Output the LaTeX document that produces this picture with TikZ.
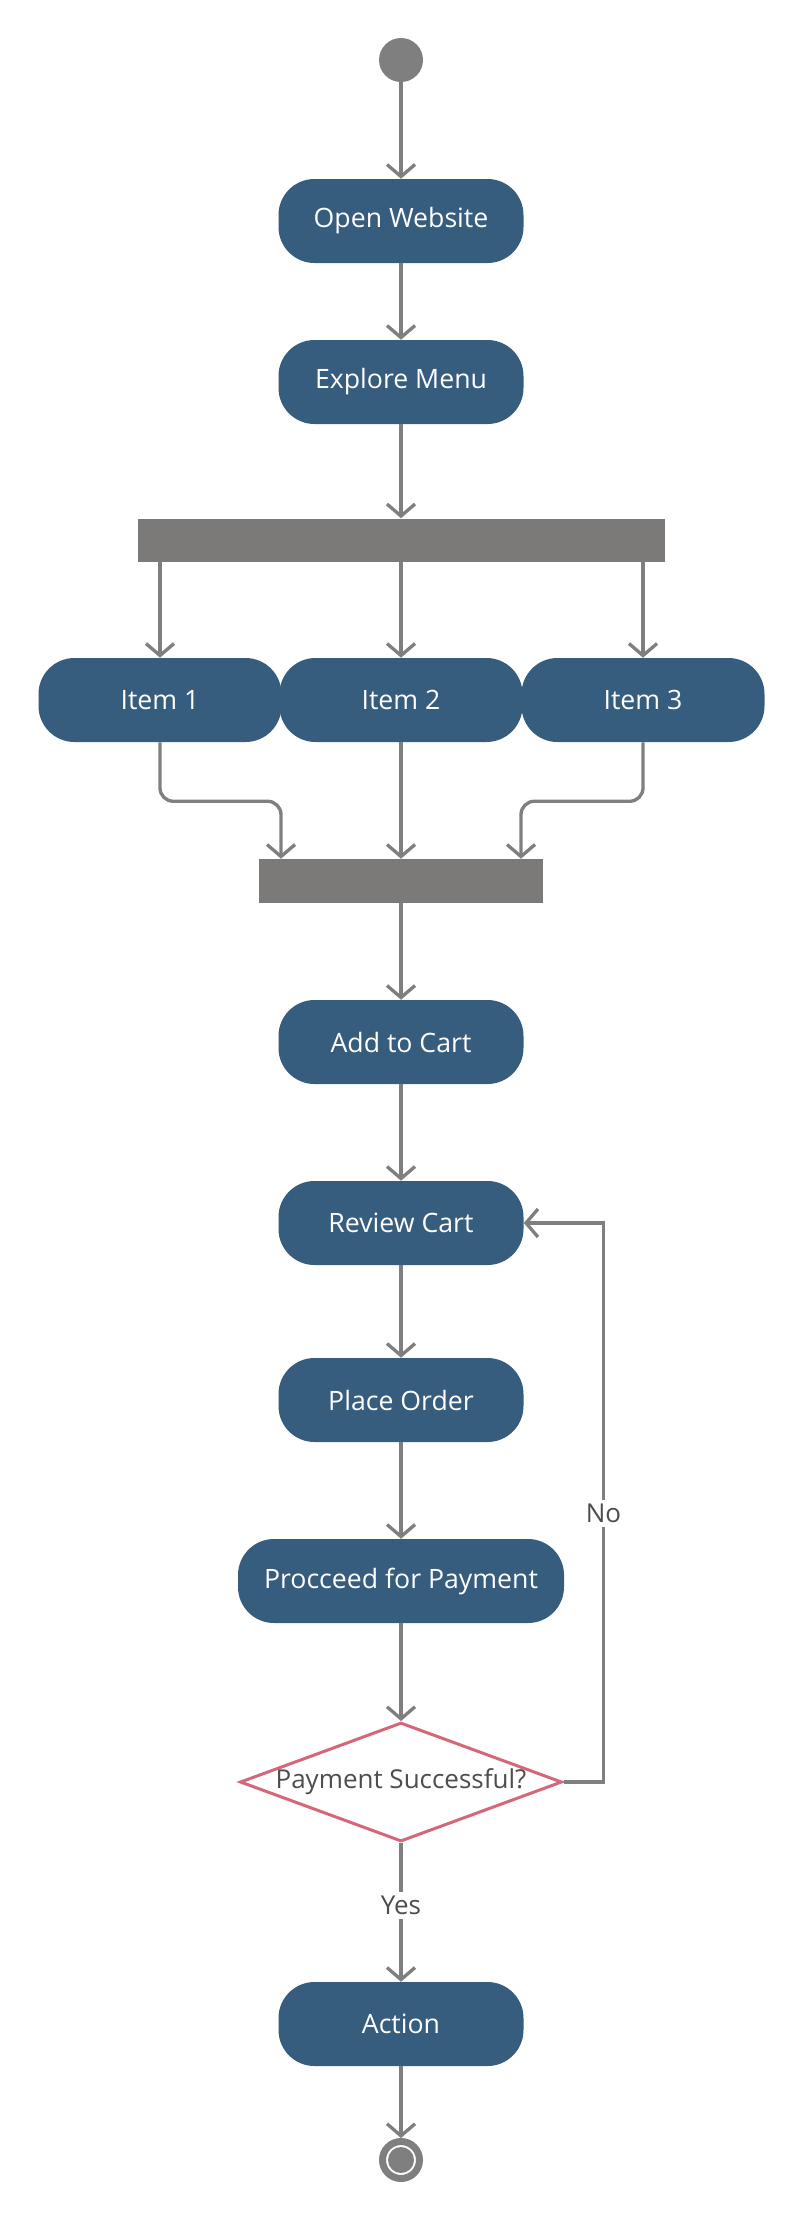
\documentclass[tikz,border=0pt]{standalone}
\usepackage{fontspec}
\setmainfont{Open Sans}
\usetikzlibrary{arrows.meta,shapes.geometric}

\definecolor{boxblue}{HTML}{365C7E}
\definecolor{linegray}{HTML}{7F7F7F}
\definecolor{bargray}{HTML}{7B7A78}
\definecolor{decred}{HTML}{D4687A}
\definecolor{lblgray}{HTML}{4D4D4D}

\tikzset{
  act/.style={rectangle, rounded corners=27pt, fill=boxblue, text=white, inner sep=0pt,
    minimum width=183.75pt, minimum height=63pt, font=\fontsize{20pt}{24pt}\selectfont},
  bar/.style={rectangle, fill=bargray, inner sep=0pt},
  flow/.style={draw=linegray, line width=2.5pt, -{Straight Barb[length=9pt,width=21pt]}},
  lbl/.style={fill=white, text=lblgray, inner sep=3pt, font=\fontsize{19.5pt}{23pt}\selectfont},
}

\begin{document}
\begin{tikzpicture}[x=0.75pt,y=0.75pt,yscale=-1]
\useasboundingbox (0,0) rectangle (800,2220);

%Start and end
\node[circle, fill=linegray, minimum size=33pt, inner sep=0pt] (start) at (401,60) {};
\node[circle, draw=linegray, line width=5.25pt, fill=white, minimum size=27.75pt, inner sep=0pt,
  path picture={\fill[linegray] (path picture bounding box.center) circle (9.75pt);}] (final) at (401,2160) {};

%Activities
\node[act] (open) at (401,221) {Open Website};
\node[act] (explore) at (401,382) {Explore Menu};
\node[act, minimum width=182.25pt] (item1) at (160,700) {Item 1};
\node[act, minimum width=182.25pt] (item2) at (401,700) {Item 2};
\node[act, minimum width=182.25pt] (item3) at (643,700) {Item 3};
\node[act] (cart) at (401,1042) {Add to Cart};
\node[act] (review) at (401,1223) {Review Cart};
\node[act] (order) at (401,1400) {Place Order};
\node[act, minimum width=244.5pt] (payment) at (401,1581) {Procceed for Payment};
\node[act] (action) at (401,2024) {Action};

%Fork and join bars
\node[bar, minimum width=395.25pt, minimum height=32.25pt] (fork) at (401,540) {};
\node[bar, minimum width=213pt, minimum height=33pt] (join) at (401,881) {};

%Decision
\node[diamond, draw=decred, line width=2.25pt, fill=white, inner sep=0pt, aspect=2.7,
  minimum width=241.5pt, minimum height=89.25pt, text=lblgray,
  font=\fontsize{19.5pt}{23pt}\selectfont] (paid) at (401,1782) {\makebox[0pt]{Payment Successful?}};

%Flows
\draw[flow] (start) -- (open);
\draw[flow] (open) -- (explore);
\draw[flow] (explore) -- (fork);
\draw[flow] (fork.south -| item1) -- (item1);
\draw[flow] (fork) -- (item2);
\draw[flow] (fork.south -| item3) -- (item3);
\draw[flow, rounded corners=10pt] (item1.south) -- ++(0,59) -| ([xshift=-90pt]join.north);
\draw[flow] (item2) -- (join);
\draw[flow, rounded corners=10pt] (item3.south) -- ++(0,59) -| ([xshift=90pt]join.north);
\draw[flow] (join) -- (cart);
\draw[flow] (cart) -- (review);
\draw[flow] (review) -- (order);
\draw[flow] (order) -- (payment);
\draw[flow] (payment) -- (paid);
\draw[flow] (paid) -- node[lbl, pos=0.45] (yes) {Yes} (action);
\draw[flow] (paid.east) -- ++(40,0) |- node[lbl, pos=0.24] (no) {No} (review.east);
\draw[flow] (action) -- (final);

\end{tikzpicture}
\end{document}
